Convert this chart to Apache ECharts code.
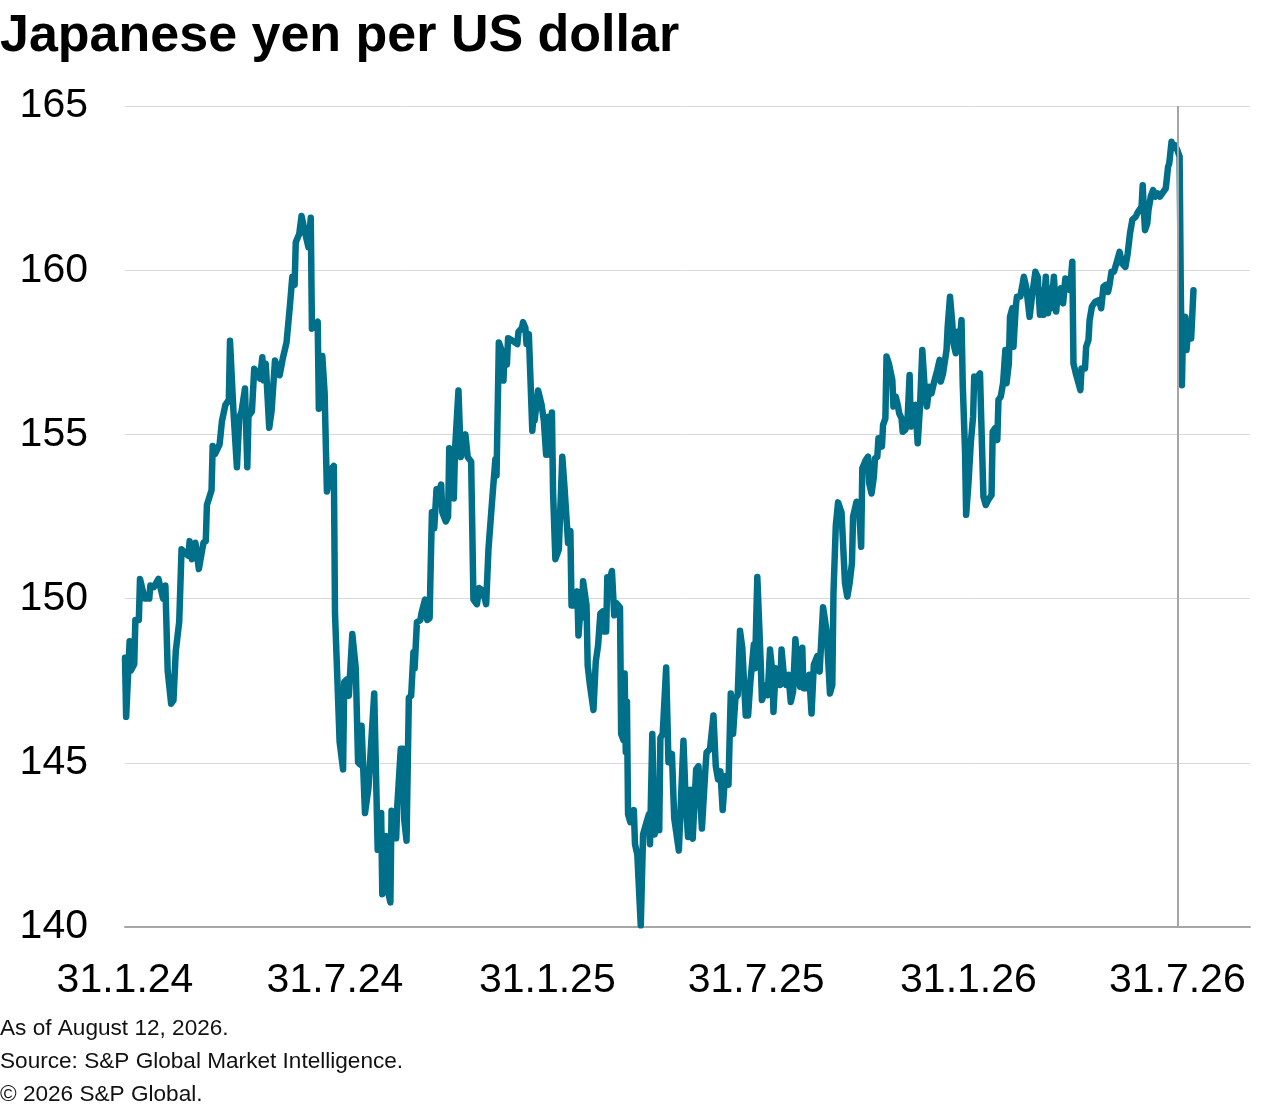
<!DOCTYPE html>
<html>
<head>
<meta charset="utf-8">
<script src="https://cdn.jsdelivr.net/npm/echarts@6/dist/echarts.min.js"></script>
<style>
  html, body { margin: 0; padding: 0; background: #fff; }
  #chart { width: 1280px; height: 1107px; }
</style>
</head>
<body>
<div id="chart"></div>
<script>
"use strict";

const title = "Japanese yen per US dollar";
const notes = ["As of August 12, 2026.", "Source: S&P Global Market Intelligence.", "\u00a9 2026 S&P Global."];
const tickDates = ["2024-01-31", "2024-07-31", "2025-01-31", "2025-07-31", "2026-01-31", "2026-07-31"];
const markerDate = "2026-07-31";
const axisStart = "2024-01-31";
const axisEnd = "2026-10-02";
const yTicks = [140, 145, 150, 155, 160, 165];

const dates = [
  "2024-01-31", "2024-02-01", "2024-02-04", "2024-02-05", "2024-02-08", "2024-02-09", "2024-02-12", "2024-02-13",
  "2024-02-17", "2024-02-21", "2024-02-22", "2024-02-25", "2024-02-29", "2024-03-02", "2024-03-04", "2024-03-06",
  "2024-03-08", "2024-03-11", "2024-03-13", "2024-03-15", "2024-03-18", "2024-03-20", "2024-03-23", "2024-03-26",
  "2024-03-27", "2024-03-29", "2024-04-01", "2024-04-04", "2024-04-08", "2024-04-10", "2024-04-11", "2024-04-15",
  "2024-04-16", "2024-04-18", "2024-04-22", "2024-04-24", "2024-04-27", "2024-04-30", "2024-05-01", "2024-05-04",
  "2024-05-07", "2024-05-09", "2024-05-11", "2024-05-14", "2024-05-16", "2024-05-17", "2024-05-20", "2024-05-22",
  "2024-05-27", "2024-05-29", "2024-05-30", "2024-06-01", "2024-06-04", "2024-06-06", "2024-06-09", "2024-06-13",
  "2024-06-16", "2024-06-19", "2024-06-22", "2024-06-24", "2024-06-26", "2024-06-27", "2024-06-30", "2024-07-02",
  "2024-07-05", "2024-07-08", "2024-07-10", "2024-07-11", "2024-07-16", "2024-07-17", "2024-07-20", "2024-07-22",
  "2024-07-24", "2024-07-28", "2024-07-30", "2024-07-31", "2024-08-02", "2024-08-04", "2024-08-07", "2024-08-08",
  "2024-08-10", "2024-08-12", "2024-08-15", "2024-08-18", "2024-08-20", "2024-08-22", "2024-08-23", "2024-08-26",
  "2024-08-29", "2024-09-03", "2024-09-06", "2024-09-08", "2024-09-09", "2024-09-10", "2024-09-13", "2024-09-14",
  "2024-09-17", "2024-09-18", "2024-09-22", "2024-09-23", "2024-09-26", "2024-09-28", "2024-09-29", "2024-10-01",
  "2024-10-03", "2024-10-05", "2024-10-07", "2024-10-08", "2024-10-10", "2024-10-13", "2024-10-14", "2024-10-17",
  "2024-10-19", "2024-10-21", "2024-10-22", "2024-10-23", "2024-10-25", "2024-10-27", "2024-10-29", "2024-10-31",
  "2024-11-01", "2024-11-04", "2024-11-06", "2024-11-07", "2024-11-09", "2024-11-11", "2024-11-12", "2024-11-15",
  "2024-11-17", "2024-11-19", "2024-11-21", "2024-11-23", "2024-11-26", "2024-11-28", "2024-12-01", "2024-12-03",
  "2024-12-06", "2024-12-09", "2024-12-11", "2024-12-14", "2024-12-17", "2024-12-18", "2024-12-20", "2024-12-23",
  "2024-12-24", "2024-12-25", "2024-12-27", "2024-12-28", "2024-12-31", "2025-01-05", "2025-01-06", "2025-01-09",
  "2025-01-10", "2025-01-12", "2025-01-13", "2025-01-15", "2025-01-18", "2025-01-19", "2025-01-20", "2025-01-23",
  "2025-01-26", "2025-01-28", "2025-01-30", "2025-02-01", "2025-02-02", "2025-02-04", "2025-02-05", "2025-02-07",
  "2025-02-10", "2025-02-11", "2025-02-13", "2025-02-15", "2025-02-17", "2025-02-18", "2025-02-20", "2025-02-21",
  "2025-02-24", "2025-02-26", "2025-02-27", "2025-03-01", "2025-03-02", "2025-03-03", "2025-03-06", "2025-03-07",
  "2025-03-09", "2025-03-12", "2025-03-14", "2025-03-16", "2025-03-18", "2025-03-20", "2025-03-21", "2025-03-23",
  "2025-03-24", "2025-03-26", "2025-03-28", "2025-03-30", "2025-04-01", "2025-04-04", "2025-04-05", "2025-04-07",
  "2025-04-08", "2025-04-09", "2025-04-10", "2025-04-11", "2025-04-13", "2025-04-16", "2025-04-17", "2025-04-19",
  "2025-04-20", "2025-04-22", "2025-04-24", "2025-04-26", "2025-04-29", "2025-04-30", "2025-05-02", "2025-05-04",
  "2025-05-06", "2025-05-08", "2025-05-09", "2025-05-11", "2025-05-14", "2025-05-16", "2025-05-19", "2025-05-21",
  "2025-05-25", "2025-05-29", "2025-05-31", "2025-06-02", "2025-06-04", "2025-06-06", "2025-06-09", "2025-06-11",
  "2025-06-14", "2025-06-17", "2025-06-18", "2025-06-21", "2025-06-24", "2025-06-26", "2025-06-28", "2025-06-30",
  "2025-07-02", "2025-07-04", "2025-07-07", "2025-07-09", "2025-07-11", "2025-07-13", "2025-07-15", "2025-07-17",
  "2025-07-19", "2025-07-20", "2025-07-22", "2025-07-24", "2025-07-26", "2025-07-29", "2025-07-30", "2025-08-01",
  "2025-08-04", "2025-08-05", "2025-08-07", "2025-08-09", "2025-08-10", "2025-08-12", "2025-08-14", "2025-08-15",
  "2025-08-17", "2025-08-19", "2025-08-21", "2025-08-22", "2025-08-24", "2025-08-26", "2025-08-28", "2025-08-30",
  "2025-09-01", "2025-09-03", "2025-09-05", "2025-09-07", "2025-09-09", "2025-09-10", "2025-09-13", "2025-09-15",
  "2025-09-17", "2025-09-19", "2025-09-22", "2025-09-24", "2025-09-27", "2025-09-30", "2025-10-03", "2025-10-05",
  "2025-10-06", "2025-10-08", "2025-10-10", "2025-10-13", "2025-10-16", "2025-10-18", "2025-10-20", "2025-10-22",
  "2025-10-23", "2025-10-26", "2025-10-28", "2025-10-30", "2025-10-31", "2025-11-03", "2025-11-05", "2025-11-06",
  "2025-11-08", "2025-11-10", "2025-11-11", "2025-11-13", "2025-11-14", "2025-11-17", "2025-11-18", "2025-11-20",
  "2025-11-21", "2025-11-23", "2025-11-26", "2025-11-27", "2025-11-29", "2025-12-01", "2025-12-02", "2025-12-04",
  "2025-12-05", "2025-12-07", "2025-12-09", "2025-12-11", "2025-12-12", "2025-12-14", "2025-12-16", "2025-12-18",
  "2025-12-20", "2025-12-22", "2025-12-24", "2025-12-26", "2025-12-28", "2025-12-30", "2026-01-01", "2026-01-04",
  "2026-01-06", "2026-01-07", "2026-01-09", "2026-01-12", "2026-01-13", "2026-01-15", "2026-01-17", "2026-01-18",
  "2026-01-20", "2026-01-22", "2026-01-23", "2026-01-25", "2026-01-26", "2026-01-28", "2026-01-29", "2026-01-31",
  "2026-02-02", "2026-02-04", "2026-02-05", "2026-02-07", "2026-02-10", "2026-02-11", "2026-02-13", "2026-02-15",
  "2026-02-17", "2026-02-20", "2026-02-21", "2026-02-23", "2026-02-25", "2026-02-26", "2026-02-28", "2026-03-02",
  "2026-03-04", "2026-03-05", "2026-03-07", "2026-03-08", "2026-03-10", "2026-03-11", "2026-03-13", "2026-03-14",
  "2026-03-17", "2026-03-20", "2026-03-22", "2026-03-25", "2026-03-27", "2026-03-30", "2026-04-01", "2026-04-03",
  "2026-04-04", "2026-04-06", "2026-04-08", "2026-04-10", "2026-04-11", "2026-04-13", "2026-04-15", "2026-04-17",
  "2026-04-18", "2026-04-21", "2026-04-23", "2026-04-25", "2026-04-26", "2026-04-29", "2026-05-01", "2026-05-02",
  "2026-05-04", "2026-05-06", "2026-05-08", "2026-05-09", "2026-05-12", "2026-05-13", "2026-05-15", "2026-05-16",
  "2026-05-18", "2026-05-21", "2026-05-24", "2026-05-26", "2026-05-28", "2026-05-30", "2026-06-01", "2026-06-02",
  "2026-06-04", "2026-06-06", "2026-06-07", "2026-06-09", "2026-06-11", "2026-06-13", "2026-06-16", "2026-06-18",
  "2026-06-20", "2026-06-22", "2026-06-25", "2026-06-27", "2026-06-28", "2026-06-30", "2026-07-01", "2026-07-02",
  "2026-07-03", "2026-07-05", "2026-07-06", "2026-07-08", "2026-07-10", "2026-07-12", "2026-07-14", "2026-07-16",
  "2026-07-19", "2026-07-21", "2026-07-22", "2026-07-23", "2026-07-24", "2026-07-26", "2026-07-27", "2026-07-29",
  "2026-07-31", "2026-08-02", "2026-08-03", "2026-08-04", "2026-08-05", "2026-08-07", "2026-08-08", "2026-08-10",
  "2026-08-12", "2026-08-14"
];

const yen = [
  148.2, 146.4, 148.7, 147.8, 148.0, 149.35, 149.35, 150.6,
  150.0, 150.0, 150.4, 150.35, 150.6, 150.3, 150.0, 150.4,
  147.8, 146.8, 146.9, 148.4, 149.3, 151.5, 151.4, 151.3,
  151.75, 151.2, 151.7, 150.9, 151.7, 151.75, 152.85, 153.3,
  154.65, 154.4, 154.7, 155.4, 155.9, 156.05, 157.85, 155.7,
  154.0, 155.5, 155.7, 156.4, 154.0, 155.55, 155.7, 157.0,
  156.7, 157.35, 156.65, 157.15, 155.2, 155.7, 157.25, 156.8,
  157.35, 157.8, 158.95, 159.8, 159.55, 160.85, 161.1, 161.65,
  161.15, 160.7, 161.6, 158.22, 158.43, 155.78, 157.39, 156.27,
  153.26, 153.96, 154.04, 149.56, 147.6, 145.64, 144.8, 147.46,
  147.53, 147.04, 148.92, 147.88, 145.01, 144.94, 146.13, 143.47,
  144.24, 147.11, 142.35, 142.42, 143.47, 141.0, 142.77, 141.24,
  140.75, 143.54, 142.7, 143.69, 145.43, 145.43, 143.26, 142.63,
  146.98, 147.04, 148.37, 147.88, 149.28, 149.35, 149.56, 149.97,
  149.35, 149.41, 151.09, 152.63, 152.14, 153.33, 153.26, 153.47,
  152.63, 152.35, 152.49, 154.58, 153.47, 153.05, 154.52, 156.34,
  154.31, 154.66, 155.0, 154.31, 154.17, 149.97, 149.83, 150.32,
  150.25, 149.83, 151.5, 152.9, 154.24, 153.75, 157.8, 157.5,
  156.64, 157.5, 157.13, 157.93, 157.87, 157.75, 158.12, 158.24,
  158.42, 158.24, 157.75, 158.05, 155.11, 155.54, 155.42, 156.34,
  155.91, 155.42, 154.38, 155.54, 154.38, 155.67, 153.22, 151.2,
  151.5, 152.48, 154.32, 153.34, 152.24, 151.69, 152.06, 149.79,
  149.79, 150.22, 148.88, 149.79, 149.42, 150.53, 149.79, 147.96,
  147.35, 146.61, 148.08, 148.57, 149.55, 149.61, 149.0, 149.0,
  150.65, 150.53, 150.84, 149.49, 149.86, 149.73, 145.88, 145.69,
  147.72, 145.33, 146.86, 143.43, 143.19, 143.56, 142.52, 142.21,
  141.48, 140.05, 142.82, 143.07, 143.43, 142.52, 145.88, 142.82,
  143.8, 142.95, 145.76, 145.88, 147.9, 145.02, 145.27, 143.31,
  142.33, 145.67, 143.77, 142.74, 144.18, 142.69, 144.8, 144.9,
  143.0, 144.8, 145.31, 145.42, 146.44, 144.9, 144.49, 144.74,
  143.56, 144.59, 144.33, 147.11, 145.88, 146.96, 147.06, 149.02,
  148.5, 147.78, 146.44, 146.44, 147.47, 148.6, 147.88, 150.66,
  147.99, 146.91, 147.11, 147.37, 147.06, 148.45, 147.78, 146.55,
  147.88, 147.78, 147.37, 148.45, 147.68, 147.37, 147.68, 146.85,
  147.17, 148.76, 147.88, 147.32, 148.5, 147.27, 147.27, 147.68,
  146.5, 147.99, 148.25, 147.78, 149.74, 149.02, 147.11, 147.37,
  150.15, 152.21, 152.93, 152.62, 150.47, 150.06, 150.47, 151.07,
  152.49, 152.95, 152.9, 151.58, 153.97, 154.22, 154.32, 153.51,
  153.2, 153.71, 154.27, 154.32, 154.88, 154.63, 155.29, 155.49,
  157.37, 157.16, 156.66, 155.85, 156.15, 155.85, 155.64, 155.49,
  155.08, 155.13, 155.29, 156.81, 155.24, 155.85, 155.9, 154.73,
  155.85, 157.57, 156.45, 155.85, 156.45, 156.25, 156.56, 156.96,
  157.27, 156.61, 156.86, 157.57, 158.28, 159.19, 158.38, 157.77,
  157.47, 158.13, 157.62, 158.48, 156.56, 154.52, 152.55, 153.51,
  154.73, 155.54, 156.76, 156.71, 156.86, 155.54, 153.1, 152.85,
  153.0, 153.15, 155.08, 155.19, 154.83, 156.05, 156.15, 156.56,
  157.57, 156.56, 157.16, 158.58, 158.84, 157.67, 158.89, 159.19,
  159.2, 159.8, 159.5, 158.58, 159.19, 159.95, 159.8, 158.64,
  159.39, 158.64, 159.8, 158.69, 159.45, 158.84, 159.8, 158.74,
  159.14, 159.45, 158.99, 159.75, 159.45, 159.39, 160.26, 157.16,
  156.86, 156.61, 156.35, 157.01, 157.01, 157.67, 157.87, 158.48,
  158.89, 159.04, 159.09, 158.84, 159.5, 159.55, 159.34, 159.5,
  159.95, 159.95, 160.06, 160.31, 160.56, 160.21, 160.1, 160.51,
  161.12, 161.53, 161.63, 161.78, 161.83, 161.93, 162.59, 161.83,
  161.22, 161.43, 161.83, 162.24, 162.44, 162.24, 162.34, 162.24,
  162.39, 162.49, 162.54, 163.15, 163.25, 163.91, 163.76, 163.81,
  163.66, 163.46, 159.5, 156.5, 158.28, 158.58, 157.57, 158.43,
  157.92, 159.39
];

const colors = { line: "#006f8a", marker: "#a6a6a6", axis: "#a6a6a6", grid: "#d9d9d9", text: "#000000" };
const font = "'Liberation Sans', Arial, Helvetica, sans-serif";

function toTime(text) {
  const [y, m, d] = text.split("-").map(Number);
  return new Date(y, m - 1, d).getTime();
}

function dayLabel(value) {
  const date = new Date(value);
  return date.getDate() + "." + (date.getMonth() + 1) + "." + String(date.getFullYear()).slice(2);
}

const chart = echarts.init(document.getElementById("chart"), null, { renderer: "canvas" });

chart.setOption({
  animation: false,
  backgroundColor: "#ffffff",
  textStyle: { fontFamily: font },
  title: {
    text: title, left: 0, top: 11, padding: 0,
    textStyle: { fontFamily: font, fontSize: 52, fontWeight: "bold", color: colors.text },
  },
  grid: { left: 125, right: 30, top: 106, bottom: 180, containLabel: false },
  xAxis: {
    type: "value",
    min: toTime(axisStart),
    max: toTime(axisEnd),
    axisLine: { show: true, onZero: false, lineStyle: { color: colors.axis, width: 2 } },
    axisTick: { show: false },
    splitLine: { show: false },
    axisLabel: {
      customValues: tickDates.map(toTime),
      formatter: dayLabel,
      margin: 33, fontSize: 41, color: colors.text, fontFamily: font,
      showMinLabel: true, showMaxLabel: true, hideOverlap: false,
    },
  },
  yAxis: {
    type: "value",
    min: yTicks[0], max: yTicks[yTicks.length - 1], interval: 5,
    axisLine: { show: false },
    axisTick: { show: false },
    splitLine: { lineStyle: { color: colors.grid, width: 1 } },
    axisLabel: { margin: 37, fontSize: 41, color: colors.text, fontFamily: font, padding: [6, 0, 0, 0] },
  },
  series: [{
    name: "JPY per USD",
    type: "line",
    showSymbol: false,
    clip: false,
    data: dates.map((date, index) => [toTime(date), yen[index]]),
    lineStyle: { color: colors.line, width: 6.5, join: "round", cap: "round" },
    itemStyle: { color: colors.line },
    markLine: {
      silent: true, symbol: ["none", "none"], label: { show: false },
      lineStyle: { color: colors.marker, type: "solid", width: 2 },
      data: [{ xAxis: toTime(markerDate) }],
    },
    z: 3,
  }],
  graphic: notes.map((note, index) => ({
    type: "text",
    left: 0,
    top: 1017 + index * 33,
    style: { text: note, font: "22.6px " + font, fill: "#111111" },
  })),
});
</script>
</body>
</html>
